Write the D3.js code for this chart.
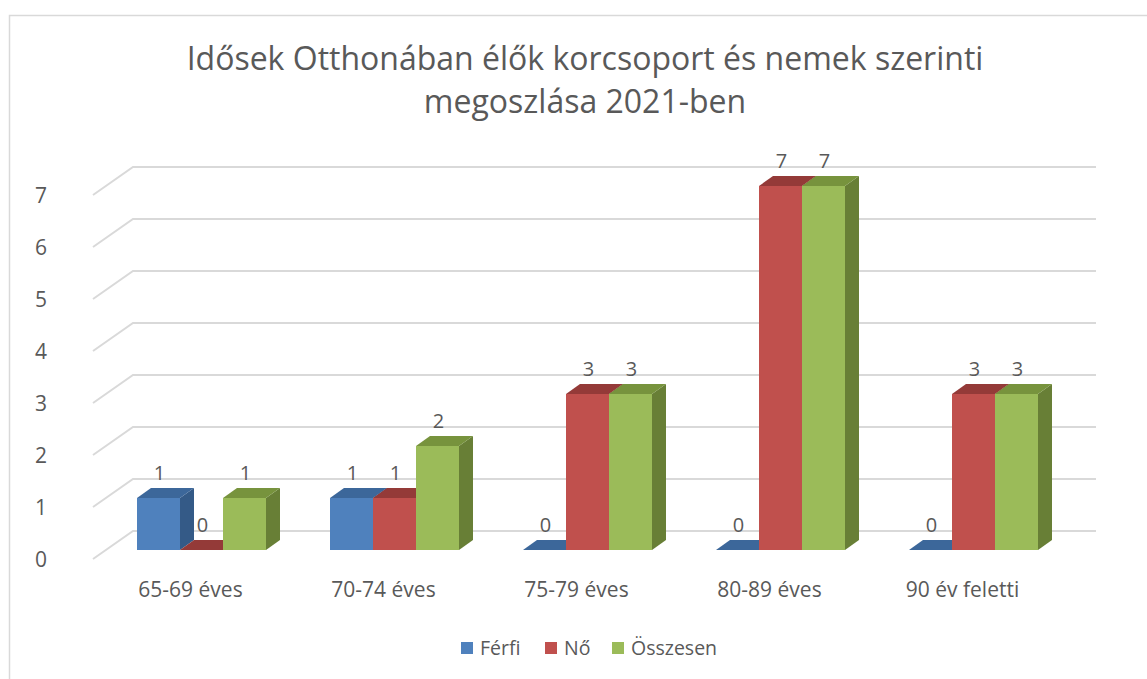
<!DOCTYPE html>
<html><head><meta charset="utf-8">
<script src="https://cdn.jsdelivr.net/npm/d3@7"></script>
<style>body{margin:0;background:#fff;} text{font-family:"Open Sans",sans-serif;fill:#595959;}</style>
</head><body>
<svg id="c" width="1147" height="679"></svg>
<script>
const categories = ["65-69 éves","70-74 éves","75-79 éves","80-89 éves","90 év feletti"];
const seriesNames = ["Férfi","Nő","Összesen"];
const ferfi = [1,1,0,0,0];
const no = [0,1,3,7,3];
const osszesen = [1,2,3,7,3];
const yTicks = [0,1,2,3,4,5,6,7];
const titleLines = ["Idősek Otthonában élők korcsoport és nemek szerinti","megoszlása 2021-ben"];

const seriesValues = [ferfi, no, osszesen];
const colors = [
  {front:"#4F81BD", top:"#3C679A", side:"#345A87"},
  {front:"#C0504D", top:"#943A38", side:"#8C3735"},
  {front:"#9BBB59", top:"#77933D", side:"#687F36"}
];

const svg = d3.select("#c");
svg.append("rect").attr("x",9.5).attr("y",15.5).attr("width",1300).attr("height",1000)
  .attr("fill","#fff").attr("stroke","#D9D9D9").attr("stroke-width",1.5);

const x0 = d3.scaleBand().domain(categories).range([105,1070]).paddingInner(64/193).paddingOuter(32/193);
const x1 = d3.scaleBand().domain(seriesNames).range([0,x0.bandwidth()]);
const y = d3.scaleLinear().domain([0,7]).range([550,186]);

const DX = 14, DY = 10;      // bar depth
const FY = 9;                // floor in front of bars
const BY = 19;               // back wall behind bars
const wallLeftFront = 93, gridRight = 1096;

// gridlines (side wall + back wall)
const grid = svg.append("g");
yTicks.forEach(t => {
  const yf = y(t) + FY, yb = y(t) - BY;
  grid.append("path")
    .attr("d", `M${wallLeftFront},${yf}L${wallLeftFront+40},${yb}L${gridRight},${yb}`)
    .attr("fill","none").attr("stroke","#D9D9D9").attr("stroke-width",2);
  svg.append("text").attr("x",47).attr("y",y(t)+FY+8).attr("text-anchor","end")
    .attr("font-size",21).text(t);
});

// bars
const bars = svg.append("g");
categories.forEach((c,i) => {
  seriesNames.forEach((s,j) => {
    const v = seriesValues[j][i];
    const xa = x0(c) + x1(s), xb = xa + x1.bandwidth();
    const yt = y(v), yb = y(0);
    const col = colors[j];
    bars.append("path").attr("d",`M${xb},${yt}L${xb+DX},${yt-DY}L${xb+DX},${yb-DY}L${xb},${yb}Z`).attr("fill",col.side);
    bars.append("path").attr("d",`M${xa},${yt}L${xb},${yt}L${xb+DX},${yt-DY}L${xa+DX},${yt-DY}Z`).attr("fill",col.top);
    if (v > 0) bars.append("rect").attr("x",xa).attr("y",yt).attr("width",xb-xa).attr("height",yb-yt).attr("fill",col.front);
  });
});
// data labels
categories.forEach((c,i) => {
  seriesNames.forEach((s,j) => {
    const v = seriesValues[j][i];
    svg.append("text").attr("x", x0(c)+x1(s)+x1.bandwidth()/2+1).attr("y", y(v)-18)
      .attr("text-anchor","middle").attr("font-size",20).text(v);
  });
});
// category labels
categories.forEach(c => {
  svg.append("text").attr("x", x0(c)+x0.bandwidth()/2-11).attr("y",597)
    .attr("text-anchor","middle").attr("font-size",21).text(c);
});

// title
titleLines.forEach((t,k) => {
  svg.append("text").attr("x",585).attr("y",70+k*43).attr("text-anchor","middle")
    .attr("font-size",32).text(t);
});

// legend
const legendX = [461,545,612];
seriesNames.forEach((s,j) => {
  svg.append("rect").attr("x",legendX[j]).attr("y",642).attr("width",12).attr("height",12).attr("fill",colors[j].front);
  svg.append("text").attr("x",legendX[j]+19).attr("y",655).attr("font-size",19.5).text(s);
});
</script>
</body></html>
